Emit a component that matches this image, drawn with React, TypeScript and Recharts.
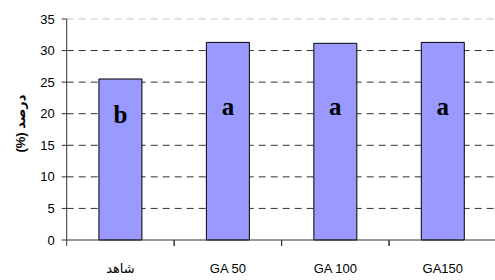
import React from 'react';
import {
  ComposedChart,
  Bar,
  Line,
  XAxis,
  YAxis,
  CartesianGrid,
  ReferenceLine,
  LabelList,
} from 'recharts';

const categories = ['شاهد', 'GA 50', 'GA 100', 'GA150'];
const values = [25.5, 31.3, 31.15, 31.3];
const letters = ['b', 'a', 'a', 'a'];
const letterPos = [18.5, 19.8, 19.8, 19.8];
const yTicks = [0, 5, 10, 15, 20, 25, 30, 35];
const gridValues = [5, 10, 15, 20, 25, 30];
const yLabel = '(%) درصد';

const data = categories.map((c, i) => ({
  cat: c,
  value: values[i],
  letter: letters[i],
  pos: letterPos[i],
}));

const SANS = '"Liberation Sans", Arial, "DejaVu Sans", sans-serif';
const SERIF = '"Liberation Serif", "Times New Roman", serif';

const X_TICK_SIZE = 6;
const X_TICK_MARGIN = 18;

const XTick = (props: any) => {
  const { x, y, payload } = props;
  const off = payload && typeof payload.offset === 'number' ? payload.offset : 53.75;
  const axisY = y - X_TICK_SIZE - X_TICK_MARGIN;
  return (
    <g>
      <line x1={x - off} x2={x - off} y1={axisY} y2={axisY + X_TICK_SIZE} stroke="#333" />
      <line x1={x + off} x2={x + off} y1={axisY} y2={axisY + X_TICK_SIZE} stroke="#333" />
      <text
        x={x}
        y={y}
        dy="0.71em"
        textAnchor="middle"
        fontSize={13}
        fontFamily={SANS}
        fill="#000"
      >
        {payload.value}
      </text>
    </g>
  );
};

const LetterLabel = (props: any) => {
  const { x, y, value } = props;
  return (
    <text
      x={x}
      y={y}
      textAnchor="middle"
      fontSize={25}
      fontWeight="bold"
      fontFamily={SERIF}
      fill="#000"
    >
      {value}
    </text>
  );
};

const YLabel = (props: any) => {
  const vb = props.viewBox || { x: 0, y: 19, width: 66, height: 221 };
  const cx = 20;
  const cy = vb.y + vb.height / 2 - 6;
  return (
    <text
      x={cx}
      y={cy}
      transform={`rotate(-90, ${cx}, ${cy})`}
      textAnchor="middle"
      dominantBaseline="central"
      fontSize={13}
      fontWeight="bold"
      fontFamily={SANS}
      fill="#000"
    >
      {yLabel}
    </text>
  );
};

export default function App() {
  return (
    <div style={{ position: 'absolute', left: 0, top: 0, width: 495, height: 280, overflow: 'hidden', background: '#fff' }}>
      <ComposedChart
        width={500}
        height={280}
        data={data}
        margin={{ top: 19, right: 3.5, bottom: 0, left: 0 }}
        barCategoryGap="30%"
      >
        <CartesianGrid
          horizontal
          vertical={false}
          horizontalValues={gridValues}
          stroke="#333"
          strokeDasharray="7 5"
        />
        <ReferenceLine y={35} stroke="#c4c4c4" strokeDasharray="7 5" />
        <XAxis
          dataKey="cat"
          axisLine={{ stroke: '#333' }}
          tickLine={false}
          tickSize={X_TICK_SIZE}
          tickMargin={X_TICK_MARGIN}
          height={40}
          tick={<XTick />}
          interval={0}
        />
        <YAxis
          width={66.7}
          domain={[0, 35]}
          ticks={yTicks}
          interval={0}
          axisLine={{ stroke: '#333' }}
          tickLine={{ stroke: '#333' }}
          tickSize={5}
          tickMargin={7}
          tick={{ fill: '#000', fontSize: 13, fontFamily: SANS }}
          label={<YLabel />}
        />
        <Bar dataKey="value" fill="#9999FF" stroke="#000" strokeWidth={1} isAnimationActive={false} />
        <Line
          dataKey="pos"
          stroke="none"
          dot={false}
          activeDot={false}
          isAnimationActive={false}
        >
          <LabelList dataKey="letter" content={<LetterLabel />} />
        </Line>
      </ComposedChart>
    </div>
  );
}
